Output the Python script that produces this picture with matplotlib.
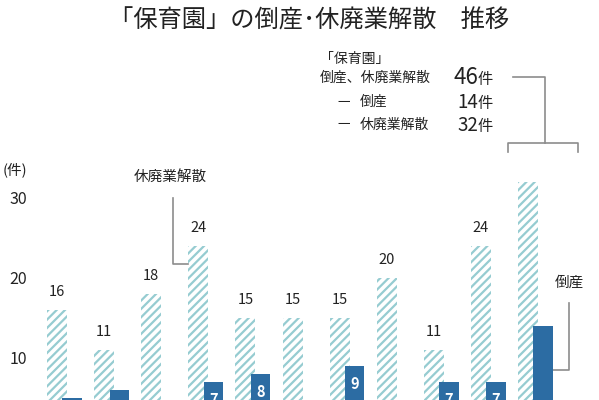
import matplotlib
matplotlib.use("Agg")
import matplotlib.pyplot as plt
import numpy as np

plt.rcParams["font.family"] = ["Noto Sans CJK JP", "DejaVu Sans"]
plt.rcParams["hatch.linewidth"] = 1.6

# data (fiscal years; the year axis is cut off below the picture)
years = ["2013", "2014", "2015", "2016", "2017", "2018", "2019", "2020", "2021", "2022", "2023"]
closures = [16, 11, 18, 24, 15, 15, 15, 20, 11, 24, 32]   # 休廃業解散
bankruptcies = [5, 6, 4, 7, 8, 3, 9, 4, 7, 7, 14]         # 倒産
total_last = 46

W, H = 599, 400
HATCH_COLOR = "#96ccd1"
SOLID_COLOR = "#2c6ca3"
TEXT = "#222222"
LINE = "#8c8c8c"

fig = plt.figure(figsize=(W / 100, H / 100), dpi=100)
# axes reaches below the canvas so the baseline is cropped like the original
ax = fig.add_axes([38 / W, -38 / H, 561 / W, 288 / H])
ax.set_xlim(-0.4034, 11.507)
ax.set_ylim(0, 36)

x = np.arange(len(years))
ax.bar(x, closures, width=0.425, facecolor="white", edgecolor=HATCH_COLOR,
       hatch="////", linewidth=0, zorder=2)
ax.bar(x + 0.32, bankruptcies, width=0.41, color=SOLID_COLOR, linewidth=0, zorder=3)

for i, v in enumerate(closures[:-1]):
    ax.annotate(str(v), (x[i], v), xytext=(0, 8), textcoords="offset points",
                ha="center", va="bottom", fontsize=10.5, color=TEXT)
# only the labels that are inside the visible part of the picture
for i, v in enumerate(bankruptcies[:-1]):
    if v < 7:
        continue
    ax.annotate(str(v), (x[i] + 0.32, v), xytext=(0, -13), textcoords="offset points",
                ha="center", va="center", fontsize=10.5, color="white", fontweight="bold")

ax.set_yticks([10, 20, 30])
ax.set_yticklabels(["10", "20", "30"], fontsize=11.5, color=TEXT)
ax.tick_params(axis="y", length=0, pad=8)
ax.set_xticks([])  # year labels sit below the cropped edge
for s in ax.spines.values():
    s.set_visible(False)

# leader for 休廃業解散
lw = 1.2
ax.plot([2.46, 2.46, 3 - 0.2125], [30, 21.75, 21.75], color=LINE, lw=lw, clip_on=False)
ax.text(2.4, 32.6, "休廃業解散", ha="center", va="center", fontsize=10.5, color=TEXT)

# leader for 倒産
bx = x[-1] + 0.32 + 0.205
ax.plot([bx, 10.87, 10.87], [8.5, 8.5, 16.9], color=LINE, lw=lw, clip_on=False)
ax.text(10.87, 19.4, "倒産", ha="center", va="center", fontsize=10.5, color=TEXT)

# bracket over the last year
ax.plot([9.68, 10.36, 10.36], [45.1, 45.1, 36.9], color=LINE, lw=lw, clip_on=False)
ax.plot([9.58, 9.58, 11.06, 11.06], [35.7, 36.9, 36.9, 35.7], color=LINE, lw=lw, clip_on=False)


def px(xp, yp):
    return xp / W, 1 - yp / H


fig.text(*px(309, 21), "「保育園」の倒産･休廃業解散\u3000推移", ha="center", va="center",
         fontsize=17.5, color=TEXT)
fig.text(*px(3, 170), "(件)", ha="left", va="center", fontsize=10.5, color=TEXT)

fig.text(*px(320, 59), "「保育園」", ha="left", va="center", fontsize=10, color=TEXT)
fig.text(*px(320, 78), "倒産、休廃業解散", ha="left", va="center", fontsize=10, color=TEXT)
fig.text(*px(337, 102), "一", ha="left", va="center", fontsize=9, color=TEXT)
fig.text(*px(360, 102), "倒産", ha="left", va="center", fontsize=10, color=TEXT)
fig.text(*px(337, 125), "一", ha="left", va="center", fontsize=9, color=TEXT)
fig.text(*px(360, 125), "休廃業解散", ha="left", va="center", fontsize=10, color=TEXT)

fig.text(*px(478, 84), str(total_last), ha="right", va="baseline", fontsize=16, color=TEXT)
fig.text(*px(478, 84), "件", ha="left", va="baseline", fontsize=11, color=TEXT)
fig.text(*px(478, 108), str(bankruptcies[-1]), ha="right", va="baseline", fontsize=13.5, color=TEXT)
fig.text(*px(478, 108), "件", ha="left", va="baseline", fontsize=11, color=TEXT)
fig.text(*px(478, 131), str(closures[-1]), ha="right", va="baseline", fontsize=13.5, color=TEXT)
fig.text(*px(478, 131), "件", ha="left", va="baseline", fontsize=11, color=TEXT)

fig.savefig("out.png", dpi=100)
